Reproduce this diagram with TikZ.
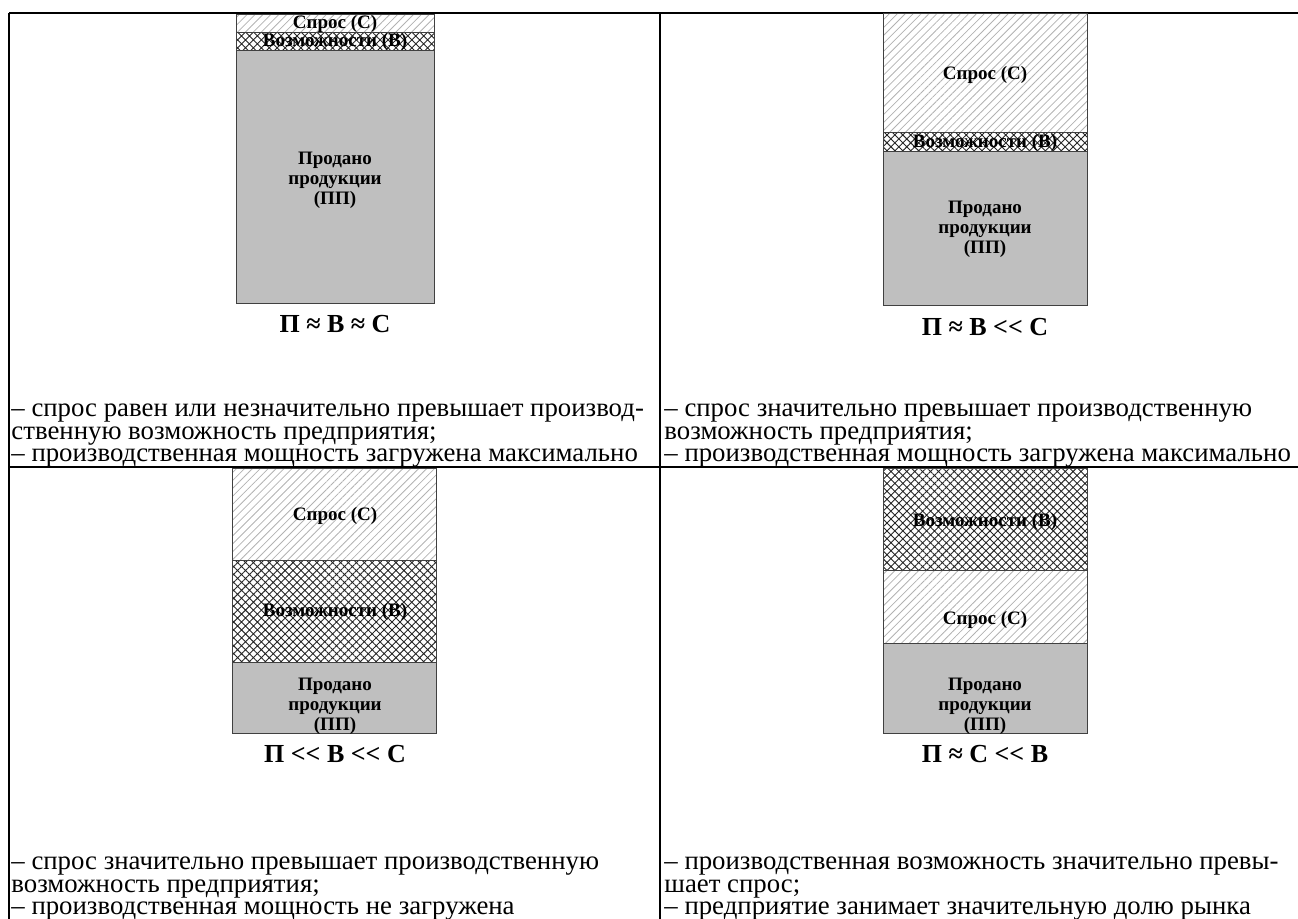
\documentclass[tikz,border=0pt]{standalone}
\usepackage{fontspec}
\setmainfont{Liberation Serif}
\usetikzlibrary{patterns.meta}
\tikzset{
  rule/.style={line width=1pt,black},
  bar/.style={draw=black!75,line width=0.5pt},
  demand/.style={bar,pattern={Lines[angle=45,distance=2.8pt,line width=0.4pt]},pattern color=black!30},
  capacity/.style={bar,pattern={Hatch[angle=45,distance=2.8pt,line width=0.45pt]},pattern color=black!85},
  sold/.style={bar,fill=black!25},
  barlabel/.style={font=\fontsize{9.5}{10}\selectfont\bfseries,align=center,inner sep=0pt},
  relation/.style={font=\fontsize{13}{15}\selectfont\bfseries,inner sep=0pt},
  note/.style={font=\fontsize{13.4}{11.3}\selectfont,align=left,anchor=base west,inner sep=0pt}
}
\newcommand{\muchless}{<\kern0pt<}
\begin{document}
\begin{tikzpicture}[x=0.5pt,y=-0.5pt]
\useasboundingbox (0,0) rectangle (1298,919);

\draw[rule] (9,13) -- (1298,13);
\draw[rule] (9,13) -- (9,919);
\draw[rule] (660,13) -- (660,919);
\draw[rule] (9,467) -- (1298,467);

\draw[demand] (236,15) rectangle (434,33);
\draw[capacity] (236,33) rectangle (434,51);
\draw[sold] (236,51) rectangle (434,304);
\node [barlabel] at (335,24) (demandA) {Спрос (С)};
\node [barlabel] at (335,42) (capA) {Возможности (В)};
\node [barlabel] at (335,180) (soldA) {Продано\\продукции\\(ПП)};
\node [relation] at (335,324) (relA) {П ≈ В ≈ С};
\node [note] at (11,462) (noteA) {– спрос равен или незначительно превышает производ-\\ственную возможность предприятия;\\– производственная мощность загружена максимально};

\draw[demand] (883,14) rectangle (1087,133);
\draw[capacity] (883,133) rectangle (1087,152);
\draw[sold] (883,152) rectangle (1087,306);
\node [barlabel] at (985,75) (demandB) {Спрос (С)};
\node [barlabel] at (985,143) (capB) {Возможности (В)};
\node [barlabel] at (985,229) (soldB) {Продано\\продукции\\(ПП)};
\node [relation] at (985,327) (relB) {П ≈ В \muchless{} С};
\node [note] at (664,462) (noteB) {– спрос значительно превышает производственную\\возможность предприятия;\\– производственная мощность загружена максимально};

\draw[demand] (232,469) rectangle (436,561);
\draw[capacity] (232,561) rectangle (436,663);
\draw[sold] (232,663) rectangle (436,734);
\node [barlabel] at (335,516) (demandC) {Спрос (С)};
\node [barlabel] at (335,612) (capC) {Возможности (В)};
\node [barlabel] at (335,706) (soldC) {Продано\\продукции\\(ПП)};
\node [relation] at (335,754) (relC) {П \muchless{} В \muchless{} С};
\node [note] at (11,915) (noteC) {– спрос значительно превышает производственную\\возможность предприятия;\\– производственная мощность не загружена};

\draw[capacity] (883,469) rectangle (1087,571);
\draw[demand] (883,571) rectangle (1087,644);
\draw[sold] (883,644) rectangle (1087,734);
\node [barlabel] at (985,522) (capD) {Возможности (В)};
\node [barlabel] at (985,620) (demandD) {Спрос (С)};
\node [barlabel] at (985,706) (soldD) {Продано\\продукции\\(ПП)};
\node [relation] at (985,754) (relD) {П ≈ С \muchless{} В};
\node [note] at (664,915) (noteD) {– производственная возможность значительно превы-\\шает спрос;\\– предприятие занимает значительную долю рынка};
\end{tikzpicture}
\end{document}
